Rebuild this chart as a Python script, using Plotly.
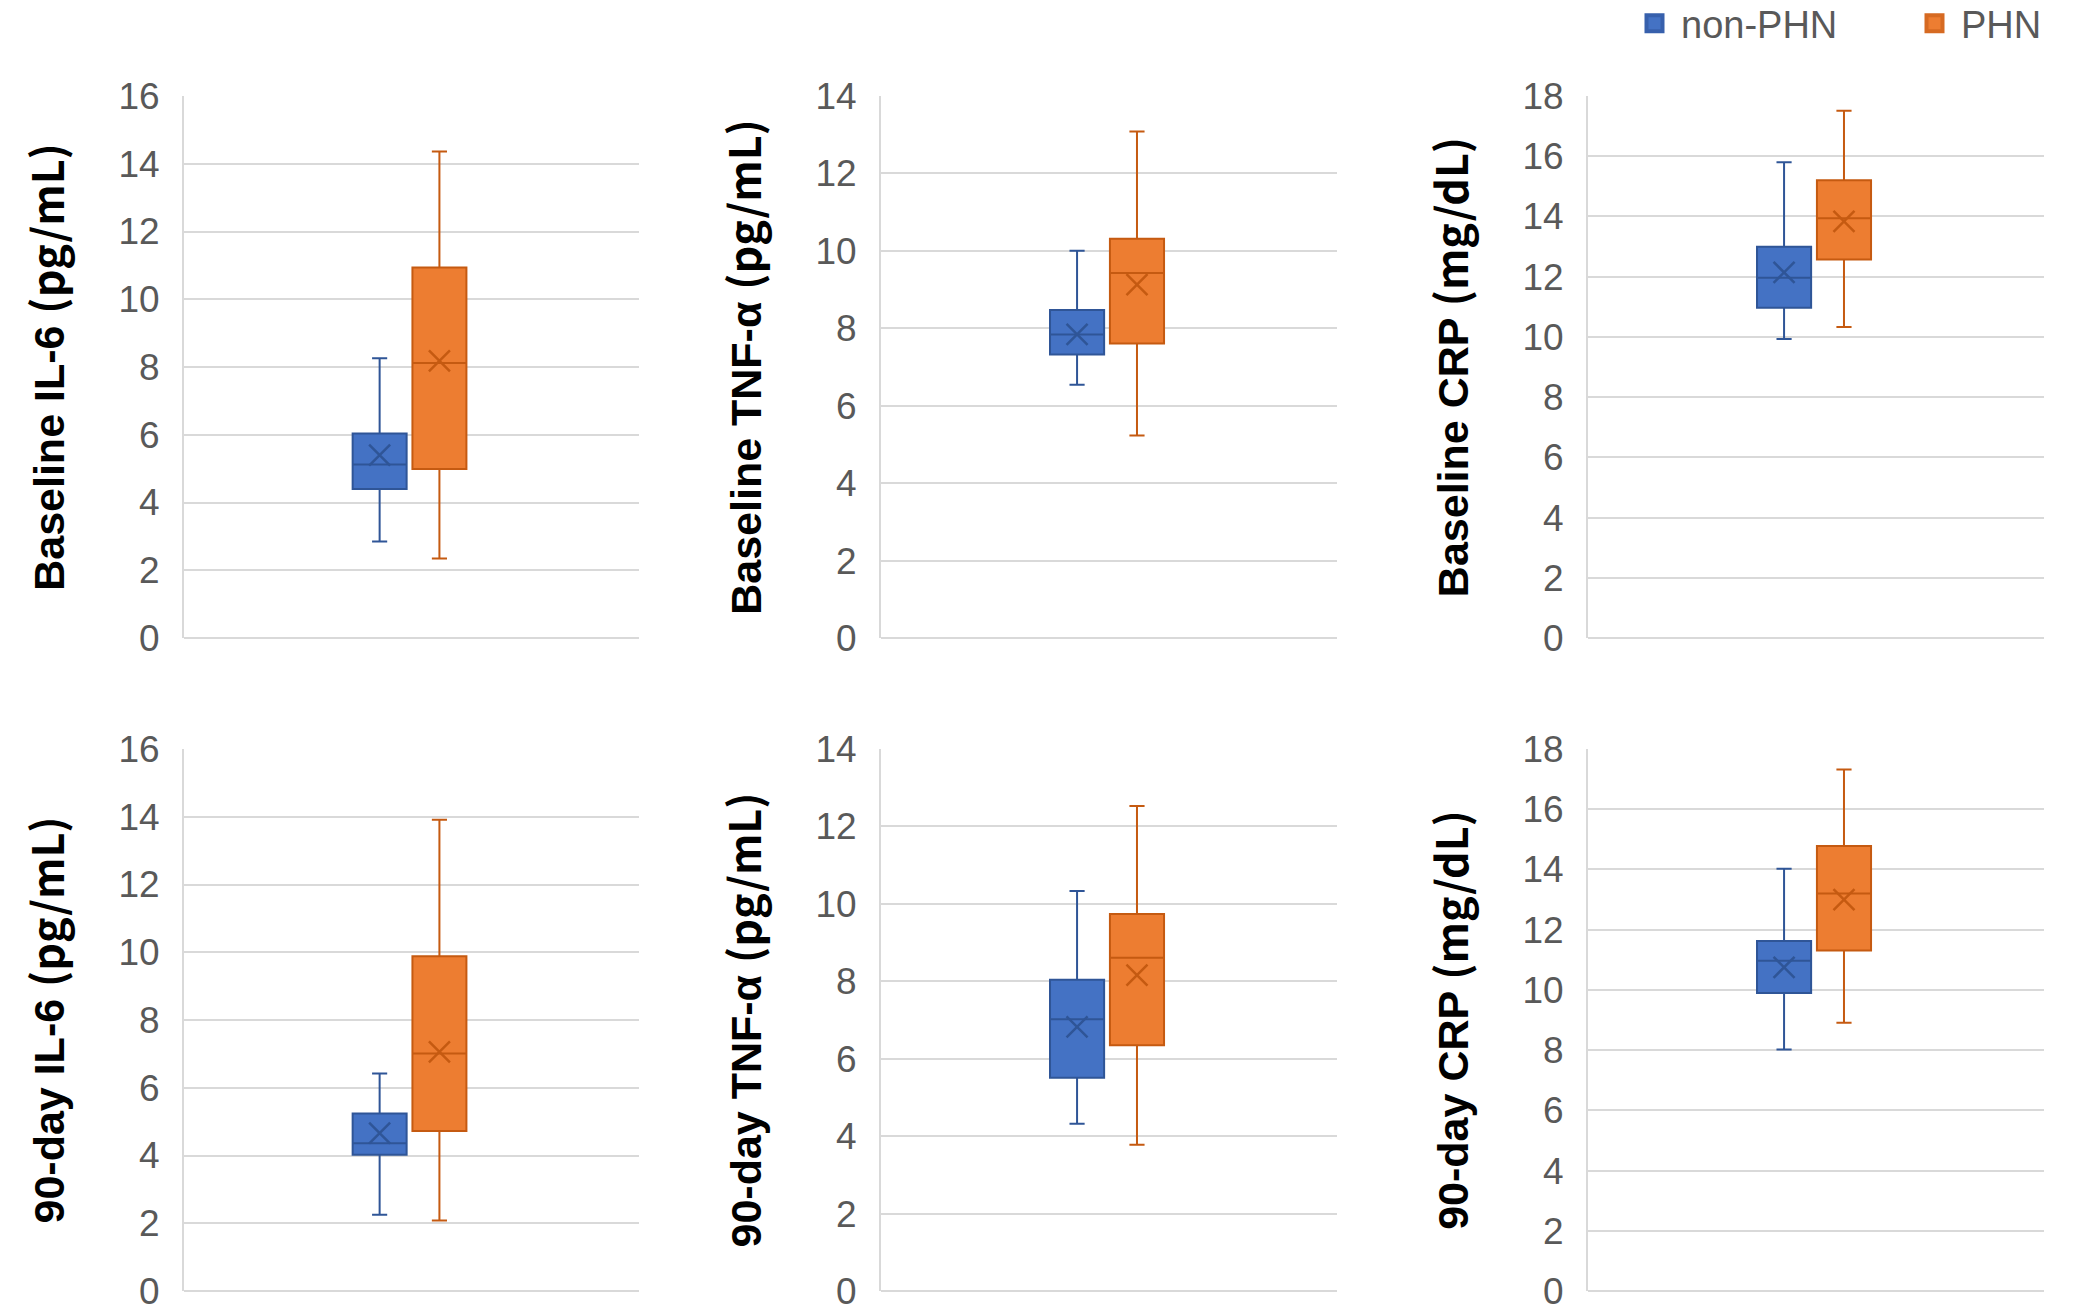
import plotly.graph_objects as go

groups = ["non-PHN", "PHN"]
fill_colors = ["#4472C4", "#ED7D31"]
line_colors = ["#2F5597", "#C55A11"]
legend_edge_colors = ["#3760AC", "#D66A22"]

panel_titles = [
    "Baseline IL-6 (pg/mL)", "Baseline TNF-α (pg/mL)", "Baseline CRP (mg/dL)",
    "90-day IL-6 (pg/mL)", "90-day TNF-α (pg/mL)", "90-day CRP (mg/dL)",
]
y_max = [16, 14, 18, 16, 14, 18]

# values per panel: [non-PHN, PHN]
lower_whisker = [[2.85, 2.35], [6.54, 5.23], [9.93, 10.33], [2.25, 2.08], [4.32, 3.78], [8.02, 8.91]]
q1 = [[4.40, 4.99], [7.32, 7.61], [10.97, 12.57], [4.02, 4.72], [5.51, 6.35], [9.90, 11.31]]
median = [[5.12, 8.12], [7.84, 9.43], [11.96, 13.94], [4.36, 7.01], [7.02, 8.61], [10.97, 13.20]]
q3 = [[6.04, 10.94], [8.47, 10.31], [12.99, 15.20], [5.24, 9.88], [8.04, 9.74], [11.62, 14.78]]
upper_whisker = [[8.26, 14.36], [10.00, 13.08], [15.80, 17.51], [6.42, 13.91], [10.33, 12.53], [14.02, 17.32]]
mean = [[5.40, 8.18], [7.84, 9.13], [12.14, 13.84], [4.66, 7.06], [6.82, 8.16], [10.75, 13.00]]

W, H = 2079, 1312
col_px = [(184, 639), (881, 1337), (1588, 2044)]
row_px = [(96, 638), (749, 1291)]


def fx(p):
    return p / W


def fy(p):
    return 1 - p / H


CJK = "Noto Sans CJK SC"
TICK_FONT = dict(family="Liberation Sans, Arial, sans-serif", size=37, color="#595959")
TITLE_FONT = dict(family="Liberation Sans, Arial, sans-serif", size=43, color="#000000")
LEGEND_FONT = dict(family="Liberation Sans, Arial, sans-serif", size=38, color="#595959")
GRID = "#D9D9D9"


def title_html(t):
    head, unit = t.rsplit(" (", 1)
    return "<b>%s <span style=\"font-family:'%s'\">(%s</span></b>" % (head, CJK, unit)


fig = go.Figure()
layout = {}
for i in range(6):
    r, c = divmod(i, 3)
    sfx = "" if i == 0 else str(i + 1)
    xa, ya = "x" + sfx, "y" + sfx
    for g in range(2):
        fig.add_trace(go.Box(
            x=[groups[g]], q1=[q1[i][g]], median=[median[i][g]], q3=[q3[i][g]],
            lowerfence=[lower_whisker[i][g]], upperfence=[upper_whisker[i][g]],
            fillcolor=fill_colors[g], line=dict(color=line_colors[g], width=2),
            whiskerwidth=0.28, width=0.903, boxpoints=False,
            name=groups[g], showlegend=False, xaxis=xa, yaxis=ya, hoverinfo="y",
        ))
    for g in range(2):
        fig.add_trace(go.Scatter(
            x=[groups[g]], y=[mean[i][g]], mode="markers",
            marker=dict(symbol="x-thin", size=21, line=dict(color=line_colors[g], width=2.5)),
            showlegend=False, xaxis=xa, yaxis=ya, hoverinfo="y",
        ))
    x0, x1 = col_px[c]
    y0, y1 = row_px[r]
    layout["xaxis" + sfx] = dict(
        domain=[fx(x0), fx(x1)], anchor=ya, type="category",
        categoryorder="array", categoryarray=groups,
        range=[-3.272, 4.338], showticklabels=False, showgrid=False,
        zeroline=False, showline=False, ticks="", fixedrange=True,
    )
    layout["yaxis" + sfx] = dict(
        domain=[fy(y1), fy(y0)], anchor=xa,
        range=[0, y_max[i]], tick0=0, dtick=2,
        showgrid=True, gridcolor=GRID, gridwidth=2,
        zeroline=True, zerolinecolor=GRID, zerolinewidth=2,
        showline=True, linecolor=GRID, linewidth=2,
        ticks="", ticklabelstandoff=15, tickfont=TICK_FONT,
        ticklabeloverflow="allow",
        title=dict(text=title_html(panel_titles[i]), font=TITLE_FONT, standoff=40),
        automargin=False, fixedrange=True,
    )

# legend entries (one legend per entry so each can be placed like the reference)
legend_x = [1628, 1908]
for g in range(2):
    key = "legend" if g == 0 else "legend2"
    fig.add_trace(go.Scatter(
        x=[None], y=[None], mode="markers", name=groups[g],
        marker=dict(symbol="square", size=16, color=fill_colors[g],
                    line=dict(color=legend_edge_colors[g], width=4)),
        showlegend=True, legend=key,
    ))
    layout[key] = dict(
        orientation="h", x=fx(legend_x[g]), xanchor="left",
        y=1 + 8 / H, yanchor="top", itemwidth=43,
        font=LEGEND_FONT, bgcolor="rgba(0,0,0,0)",
    )

fig.update_layout(
    width=W, height=H,
    margin=dict(l=0, r=0, t=0, b=0, autoexpand=False),
    paper_bgcolor="white", plot_bgcolor="white",
    showlegend=True,
    **layout,
)

fig.write_html(
    "out.html",
    config={"displayModeBar": False},
    post_script="document.body.style.margin='0';document.body.style.overflow='hidden';",
)
